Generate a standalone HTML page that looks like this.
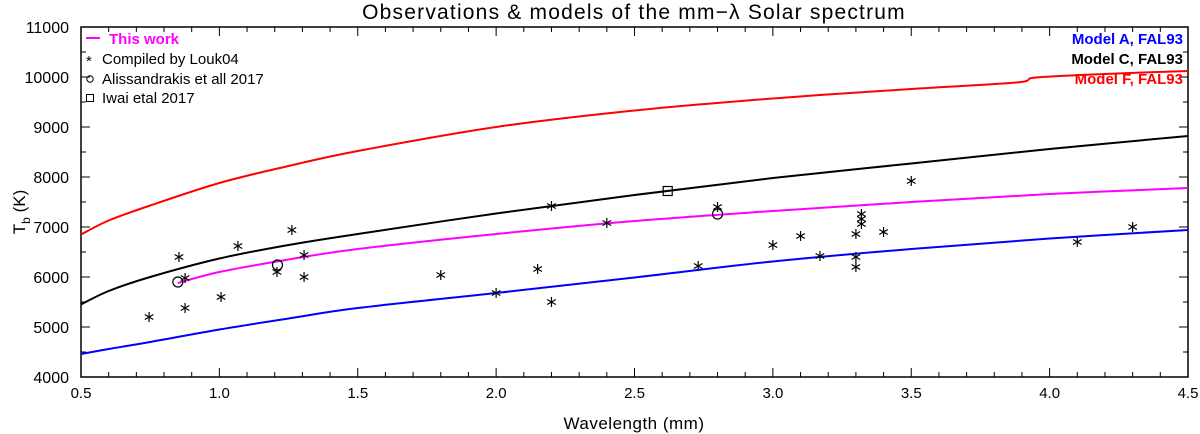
<!DOCTYPE html>
<html><head><meta charset="utf-8"><style>
body{margin:0;background:#fff}
svg{display:block;font-family:"Liberation Sans","DejaVu Sans",sans-serif}
</style></head><body>
<svg id="chart" width="1200" height="434" viewBox="0 0 1200 434">
<text x="634" y="19" font-size="21" text-anchor="middle" letter-spacing="1.2">Observations &amp; models of the mm−λ Solar spectrum</text>
<g id="axes"></g>
<g id="marks"></g>
<g font-size="15">
<line x1="86" y1="38" x2="100" y2="38" stroke="#f0f" stroke-width="2"/>
<text x="109" y="44" fill="#f0f" font-weight="bold">This work</text>
<text x="86" y="66" font-size="15">*</text>
<text x="102" y="64">Compiled by Louk04</text>
<circle cx="90" cy="79" r="3.2" fill="none" stroke="#000"/>
<text x="102" y="84">Alissandrakis et all 2017</text>
<rect x="86.5" y="94.5" width="7" height="7" fill="none" stroke="#000"/>
<text x="102" y="103">Iwai etal 2017</text>
<text x="1183" y="44" text-anchor="end" fill="#00f" font-weight="bold">Model A, FAL93</text>
<text x="1183" y="64" text-anchor="end" fill="#000" font-weight="bold">Model C, FAL93</text>
<text x="1183" y="84" text-anchor="end" fill="#f00" font-weight="bold">Model F, FAL93</text>
</g>
<text x="634" y="429" font-size="17" text-anchor="middle" letter-spacing="0.5">Wavelength (mm)</text>
<text transform="translate(25,212) rotate(-90)" font-size="17" text-anchor="middle">T<tspan font-size="12" dy="5">b</tspan><tspan dy="-5"> (K)</tspan></text>
</svg>
<script>
const xTicks=[0.5,1.0,1.5,2.0,2.5,3.0,3.5,4.0,4.5];
const yTicks=[4000,5000,6000,7000,8000,9000,10000,11000];
const redX=[0.5,0.6,0.75,1.0,1.25,1.5,2.0,2.5,3.0,3.5,3.88,3.95,4.2,4.5];
const redY=[6850,7130,7430,7880,8220,8520,9000,9330,9570,9760,9890,9990,10060,10120];
const blackX=[0.5,0.6,0.75,1.0,1.25,1.5,2.0,2.5,3.0,3.5,4.0,4.5];
const blackY=[5450,5720,6000,6370,6640,6860,7270,7640,7980,8270,8560,8820];
const magX=[0.85,1.0,1.25,1.5,2.0,2.5,3.0,3.5,4.0,4.5];
const magY=[5880,6100,6350,6560,6860,7120,7320,7500,7660,7780];
const blueX=[0.5,0.6,0.75,1.0,1.25,1.5,2.0,2.5,3.0,3.5,4.0,4.5];
const blueY=[4460,4560,4700,4950,5170,5380,5680,5990,6310,6560,6770,6940];
const starX=[0.746,0.854,0.876,0.876,1.006,1.067,1.208,1.262,1.306,1.306,1.8,2.0,2.15,2.2,2.2,2.4,2.73,2.8,3.0,3.1,3.17,3.3,3.3,3.3,3.32,3.32,3.32,3.4,3.5,4.1,4.3];
const starY=[5200,6400,5980,5380,5600,6620,6100,6940,6440,6000,6040,5680,6160,7420,5500,7080,6220,7400,6640,6820,6420,6860,6400,6200,7260,7160,7060,6900,7920,6700,7000];
const circX=[0.85,1.21,2.8];
const circY=[5900,6240,7260];
const sqX=[2.62];
const sqY=[7720];
const X0=81,X1=1188,Y0=377,Y1=27;
const sx=v=>X0+(v-0.5)/4*(X1-X0);
const sy=v=>Y0-(v-4000)/7000*(Y0-Y1);
const NS='http://www.w3.org/2000/svg';
function mk(tag,attrs,parent){const e=document.createElementNS(NS,tag);for(const k in attrs)e.setAttribute(k,attrs[k]);parent.appendChild(e);return e;}
const axes=document.getElementById('axes'),marks=document.getElementById('marks');
const frame=mk('rect',{x:X0,y:Y1,width:X1-X0,height:Y0-Y1,fill:'none',stroke:'#000','stroke-width':1.5},axes);


for(let v=0.5;v<=4.501;v+=0.1){const x=sx(v),maj=Math.abs(v*2-Math.round(v*2))<1e-6;const l=maj?9:5;
mk('line',{x1:x,y1:Y0,x2:x,y2:Y0-l,stroke:'#000'},axes);mk('line',{x1:x,y1:Y1,x2:x,y2:Y1+l,stroke:'#000'},axes);}
xTicks.forEach(v=>{const t=mk('text',{x:sx(v),y:Y0+21,'font-size':15,'text-anchor':'middle'},axes);t.textContent=v.toFixed(1);

});
for(let v=4000;v<=11000;v+=500){const y=sy(v),l=v%1000===0?9:5;
mk('line',{x1:X0,y1:y,x2:X0+l,y2:y,stroke:'#000'},axes);mk('line',{x1:X1,y1:y,x2:X1-l,y2:y,stroke:'#000'},axes);}
yTicks.forEach(v=>{const t=mk('text',{x:X0-12,y:sy(v)+6,'font-size':16,'text-anchor':'end'},axes);t.textContent=v;

});
function smooth(pts){let d='M'+pts[0][0]+','+pts[0][1];
for(let i=0;i<pts.length-1;i++){const p0=pts[i-1]||pts[i],p1=pts[i],p2=pts[i+1],p3=pts[i+2]||p2;
const c1=[p1[0]+(p2[0]-p0[0])/6,p1[1]+(p2[1]-p0[1])/6],c2=[p2[0]-(p3[0]-p1[0])/6,p2[1]-(p3[1]-p1[1])/6];
d+=' C'+c1+' '+c2+' '+p2;}return d;}
function line(xs,ys,color,name){const p=mk('path',{d:smooth(xs.map((x,i)=>[sx(x),sy(ys[i])])),fill:'none',stroke:color,'stroke-width':2},marks);

}
line(redX,redY,'#f00','model-f-line');
line(blackX,blackY,'#000','model-c-line');
line(blueX,blueY,'#00f','model-a-line');
line(magX,magY,'#f0f','this-work-line');
starX.forEach((v,i)=>{const x=sx(v),y=sy(starY[i]);const g=mk('g',{stroke:'#000','stroke-width':1.2},marks);


mk('line',{x1:x,y1:y-5,x2:x,y2:y+5},g);mk('line',{x1:x-4.3,y1:y-2.5,x2:x+4.3,y2:y+2.5},g);mk('line',{x1:x-4.3,y1:y+2.5,x2:x+4.3,y2:y-2.5},g);});
circX.forEach((v,i)=>{const c=mk('circle',{cx:sx(v),cy:sy(circY[i]),r:5,fill:'none',stroke:'#000','stroke-width':1.2},marks);

});
sqX.forEach((v,i)=>{const r=mk('rect',{x:sx(v)-4.5,y:sy(sqY[i])-4.5,width:9,height:9,fill:'none',stroke:'#000','stroke-width':1.2},marks);

});
</script>
</body></html>
